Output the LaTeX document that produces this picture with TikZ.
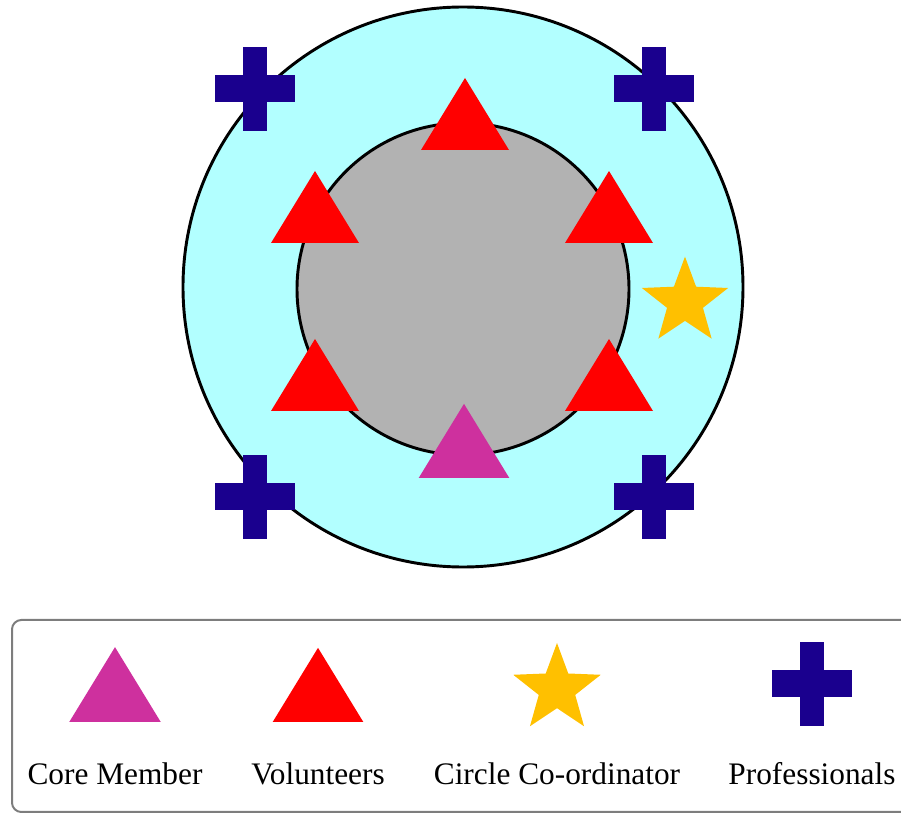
\documentclass[tikz,border=0pt]{standalone}
\usepackage{fontspec}
\setmainfont{Liberation Serif}
\usetikzlibrary{shapes.geometric}

\definecolor{ringcyan}{RGB}{178,255,255}
\definecolor{coregrey}{RGB}{178,178,178}
\definecolor{volred}{RGB}{255,0,0}
\definecolor{coremag}{RGB}{206,48,158}
\definecolor{coordgold}{RGB}{255,192,0}
\definecolor{profblue}{RGB}{26,0,142}
\definecolor{boxgrey}{RGB}{125,125,125}

\begin{document}
\begin{tikzpicture}[x=0.75pt, y=-0.75pt,
        tri/.pic={\fill (-44,0) -- (0,-72) -- (44,0) -- cycle;},
        plus/.pic={\fill (-40,-13.5) rectangle (40,13.5);
                   \fill (-12,-42) rectangle (12,42);},
        coordstar/.style={star, star points=5, star point ratio=2.4,
                          fill=coordgold, inner sep=0pt, minimum size=68pt},
        keylabel/.style={anchor=base, inner sep=0pt,
                         font=\fontsize{23.5}{28}\selectfont}]
        \clip (0,0) rectangle (901,816);

        % circle of support
        \node[circle, draw, line width=2.2pt, fill=ringcyan, minimum size=420pt] (ring) at (463,287) {};
        \node[circle, draw, line width=2.2pt, fill=coregrey, minimum size=249pt] (core) at (463,289) {};

        \pic[volred] at (465,150) {tri};
        \pic[volred] at (315,243) {tri};
        \pic[volred] at (609,243) {tri};
        \pic[volred] at (315,411) {tri};
        \pic[volred] at (609,411) {tri};
        \pic[coremag, scale=1.03] at (464,478) {tri};

        \node[coordstar] (coord) at (685,302) {};

        \pic[profblue] at (255,89) {plus};
        \pic[profblue] at (654,89) {plus};
        \pic[profblue] at (255,497) {plus};
        \pic[profblue] at (654,497) {plus};

        % key
        \draw[boxgrey, line width=1.5pt, rounded corners=7pt] (12,620) rectangle (940,812);

        \pic[coremag, scale=1.04] at (115,722) {tri};
        \pic[volred, scale=1.03] at (318,722) {tri};
        \node[coordstar, minimum size=69pt] (keycoord) at (557,689) {};
        \pic[profblue] at (812,684) {plus};

        \node[keylabel] (lcore) at (115,785) {Core Member};
        \node[keylabel] (lvol) at (318,785) {Volunteers};
        \node[keylabel] (lcoord) at (557,785) {Circle Co-ordinator};
        \node[keylabel] (lprof) at (812,785) {Professionals};
    \end{tikzpicture}
\end{document}
